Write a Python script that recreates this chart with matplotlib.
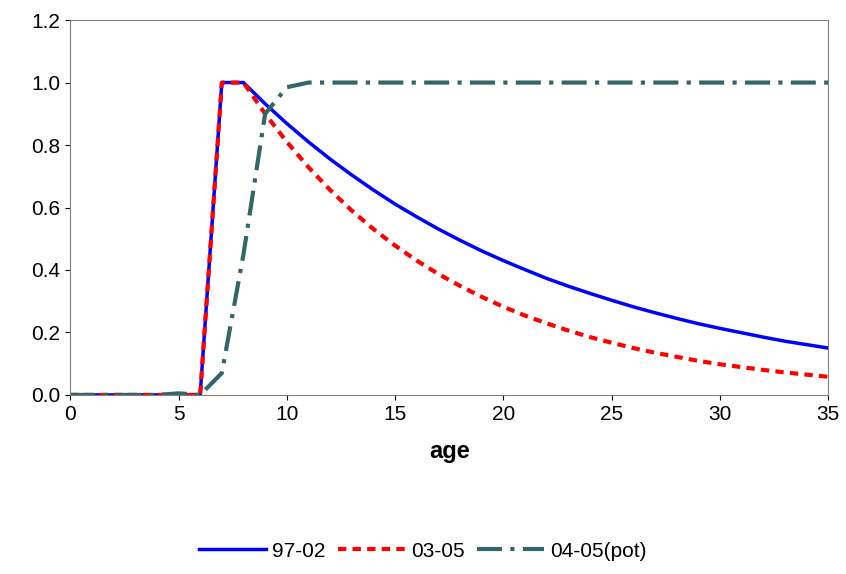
import matplotlib
matplotlib.use("Agg")
import matplotlib.pyplot as plt

ages = list(range(36))
s_97_02 = [0, 0, 0, 0, 0, 0, 0, 1, 1, 0.932, 0.869, 0.81, 0.755, 0.704, 0.656,
           0.611, 0.57, 0.531, 0.495, 0.461, 0.43, 0.401, 0.373, 0.348, 0.325,
           0.303, 0.282, 0.263, 0.245, 0.228, 0.213, 0.199, 0.185, 0.172, 0.161, 0.15]
s_03_05 = [0, 0, 0, 0, 0, 0, 0, 1, 1, 0.90, 0.81, 0.729, 0.656, 0.59, 0.531,
           0.478, 0.43, 0.387, 0.349, 0.314, 0.282, 0.254, 0.229, 0.206, 0.185,
           0.167, 0.15, 0.135, 0.122, 0.109, 0.098, 0.089, 0.08, 0.072, 0.065, 0.058]
s_04_05 = [0, 0, 0, 0, 0, 0.005, 0, 0.07, 0.45, 0.9, 0.985] + [1] * 25

plt.rcParams["font.family"] = ["Liberation Sans", "DejaVu Sans"]
fig = plt.figure(figsize=(8.46, 5.74), dpi=100)
ax = fig.add_axes([0.083, 0.312, 0.896, 0.653])

ax.plot(ages, s_97_02, color="#0000ff", lw=2.5, label="97-02")
ax.plot(ages, s_03_05, color="#ff0000", lw=3, ls=(0, (2, 1.5)), label="03-05")
ax.plot(ages, s_04_05, color="#336666", lw=3, ls=(0, (6, 2, 1, 2)), label="04-05(pot)")

ax.set_xlim(0, 35)
ax.set_ylim(0, 1.2)
ax.set_xticks(range(0, 36, 5))
ax.set_yticks([0, 0.2, 0.4, 0.6, 0.8, 1.0, 1.2])
ax.set_yticklabels([f"{v:.1f}" for v in ax.get_yticks()])
ax.tick_params(labelsize=15, direction="out")
for sp in ax.spines.values():
    sp.set_color("#808080")
ax.set_xlabel("age", fontsize=17, fontweight="bold", labelpad=12)

fig.legend(loc="center", bbox_to_anchor=(0.5, 0.04), ncol=3, frameon=False,
           fontsize=15, handlelength=3.2, columnspacing=0.6, handletextpad=0.3)

fig.savefig("out.png", dpi=100)
